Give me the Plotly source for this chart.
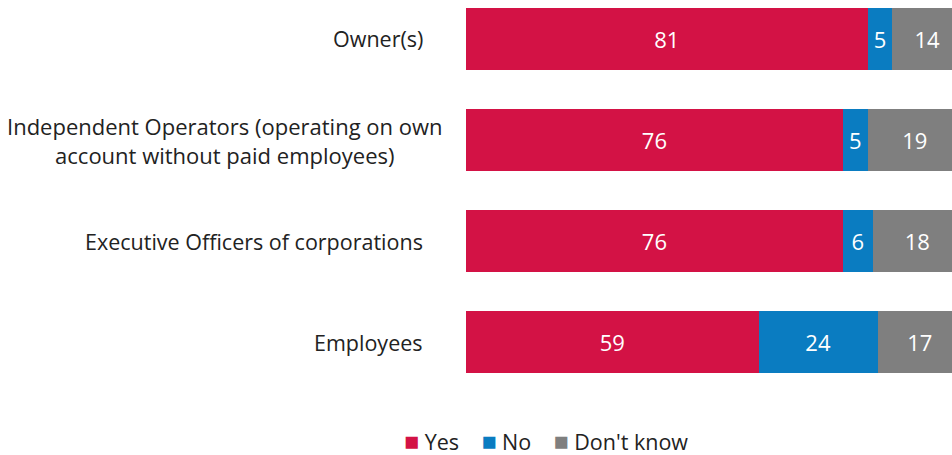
import plotly.graph_objects as go

# Survey responses by role (percent of respondents)
categories = [
    "Owner(s)",
    "Independent Operators (operating on own<br>account without paid employees)",
    "Executive Officers of corporations",
    "Employees",
]
yes_vals = [81, 76, 76, 59]
no_vals = [5, 5, 6, 24]
dk_vals = [14, 19, 18, 17]

series = [
    ("Yes", yes_vals, "#D31245"),
    ("No", no_vals, "#0A7CC1"),
    ("Don't know", dk_vals, "#7F7F7F"),
]

FONT = "Open Sans"
positions = list(range(len(categories)))

fig = go.Figure()
for name, vals, color in series:
    fig.add_trace(go.Bar(
        y=positions,
        x=vals,
        name=name,
        orientation="h",
        marker=dict(color=color, line=dict(width=0)),
        width=0.615,
        text=[str(v) for v in vals],
        textposition="inside",
        insidetextanchor="middle",
        textangle=0,
        textfont=dict(color="white", size=22, family=FONT),
        constraintext="none",
        hoverinfo="skip",
        showlegend=False,
    ))

# Category labels, right-aligned left of the bars
label_x = [-0.085, -0.043, -0.085, -0.085]
label_size = [21.5, 22, 21.5, 21.5]
for pos, (lab, lx, fs) in enumerate(zip(categories, label_x, label_size)):
    fig.add_annotation(
        x=lx, xref="paper", y=pos, yref="y",
        text=lab, showarrow=False, xanchor="right", yanchor="middle",
        align="center", font=dict(size=fs, family=FONT, color="#222222"),
    )

# Legend row: coloured square followed by the series name
items = [
    f'<span style="color:{color}">■</span>'
    f'<span style="font-size:21.5px"> {name}</span>'
    for name, _, color in series
]
legend_text = '<span style="font-size:21.5px">    </span>'.join(items)
fig.add_annotation(
    x=0.165, xref="paper", y=-0.128, yref="paper",
    text=legend_text, showarrow=False, xanchor="center", yanchor="middle",
    font=dict(size=25, family=FONT, color="#222222"),
)

fig.update_layout(
    width=952, height=455,
    margin=dict(l=466, r=0, t=0, b=65, autoexpand=False),
    barmode="stack",
    paper_bgcolor="white", plot_bgcolor="white",
    xaxis=dict(range=[0, 98], visible=False, fixedrange=True),
    yaxis=dict(range=[3.475, -0.386], visible=False, fixedrange=True),
    showlegend=False,
    font=dict(family=FONT),
)

fig.write_html("out.html")
